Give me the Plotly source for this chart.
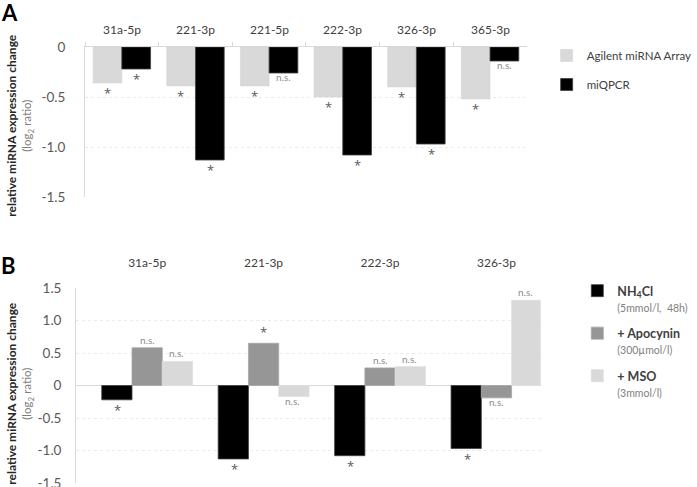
"""
    miRNA expression change - two panel bar chart
"""
import plotly.graph_objects as go

# Panel A data
mirna_a = ['31a-5p', '221-3p', '221-5p', '222-3p', '326-3p', '365-3p']
agilent = [-0.36, -0.39, -0.39, -0.50, -0.40, -0.52]
miqpcr = [-0.22, -1.13, -0.26, -1.08, -0.97, -0.14]
sig_agilent = ['*', '*', '*', '*', '*', '*']
sig_miqpcr = ['*', '*', 'n.s.', '*', '*', 'n.s.']

# Panel B data
mirna_b = ['31a-5p', '221-3p', '222-3p', '326-3p']
nh4cl = [-0.22, -1.13, -1.08, -0.97]
apocynin = [0.58, 0.65, 0.27, -0.19]
mso = [0.37, -0.17, 0.29, 1.31]
sig_nh4cl = ['*', '*', '*', '*']
sig_apocynin = ['n.s.', '*', 'n.s.', 'n.s.']
sig_mso = ['n.s.', 'n.s.', 'n.s.', 'n.s.']

ticks_a = [0, -0.5, -1.0, -1.5]
ticktext_a = ['0', '-0.5', '-1.0', '-1.5']
ticks_b = [1.5, 1.0, 0.5, 0, -0.5, -1.0, -1.5]
ticktext_b = ['1.5', '1.0', '0.5', '0', '-0.5', '-1.0', '-1.5']

FONT = 'Lato'
W, H = 697, 487


def px(x):
    return x / W


def py(y):
    return 1 - y / H


def sig_annotations(xref, yref, cats, values, sigs, offset):
    out = []
    for c, v, s in zip(cats, values, sigs):
        up = v >= 0
        star = s == '*'
        if star:
            shift = 0 if up else 1
        else:
            shift = 0 if up else 4
        out.append(dict(
            x=c, y=v, xref=xref, yref=yref, text=s, showarrow=False,
            xshift=offset, yshift=shift,
            yanchor='bottom' if up else 'top',
            font=dict(family='Open Sans' if star else FONT,
                      size=13 if star else 10,
                      color='#595959' if star else '#8c8c8c')))
    return out


fig = go.Figure()

# Panel A bars
fig.add_trace(go.Bar(x=mirna_a, y=agilent, name='Agilent miRNA Array',
                     marker=dict(color='#d9d9d9', line=dict(color='#d0d0d0', width=0.5)),
                     xaxis='x', yaxis='y', legend='legend', legendgroup='a1'))
fig.add_trace(go.Bar(x=mirna_a, y=miqpcr, name='miQPCR',
                     marker=dict(color='#000000', line=dict(color='#404040', width=0.8)),
                     xaxis='x', yaxis='y', legend='legend', legendgroup='a2'))

# Panel B bars
sub = "<br><span style='font-size:10.5px;color:#7f7f7f'>%s</span>"
fig.add_trace(go.Bar(x=mirna_b, y=nh4cl,
                     name="<b>NH<sub>4</sub>Cl</b>" + sub % "(5mmol/l,  48h)",
                     marker=dict(color='#000000', line=dict(color='#404040', width=0.8)),
                     xaxis='x2', yaxis='y2', legend='legend2', legendgroup='b1'))
fig.add_trace(go.Bar(x=mirna_b, y=apocynin,
                     name="<b>+ Apocynin</b>" + sub % "(300µmol/l)",
                     marker=dict(color='#969696', line=dict(color='#a6a6a6', width=0.8)),
                     xaxis='x2', yaxis='y2', legend='legend2', legendgroup='b2'))
fig.add_trace(go.Bar(x=mirna_b, y=mso,
                     name="<b>+ MSO</b>" + sub % "(3mmol/l)",
                     marker=dict(color='#d9d9d9', line=dict(color='#e0e0e0', width=0.8)),
                     xaxis='x2', yaxis='y2', legend='legend2', legendgroup='b3'))

axis_font = dict(family=FONT, size=12, color='#404040')
tick_font = dict(family=FONT, size=13.5, color='#595959')
grid = dict(showgrid=True, gridcolor='#ebebeb', griddash='dot', gridwidth=1)

# significance marks
bw_a = 29.5
bw_b = 29.4
ann = []
ann += sig_annotations('x', 'y', mirna_a, agilent, sig_agilent, -bw_a / 2)
ann += sig_annotations('x', 'y', mirna_a, miqpcr, sig_miqpcr, bw_a / 2)
ann += sig_annotations('x2', 'y2', mirna_b, nh4cl, sig_nh4cl, -bw_b)
ann += sig_annotations('x2', 'y2', mirna_b, apocynin, sig_apocynin, 0)
ann += sig_annotations('x2', 'y2', mirna_b, mso, sig_mso, bw_b)

# panel A category labels above the top axis line
ann += [dict(x=c, y=py(29), xref='x', yref='paper', text=c, showarrow=False,
             xanchor='center', yanchor='middle', font=axis_font) for c in mirna_a]

# panel letters and axis titles
ytitle = ("<b>relative miRNA expression change</b><br>"
          "<span style='font-size:11.5px;color:#7f7f7f'>(log<sub>2</sub> ratio)</span>")
ann += [
    dict(text='<b>A</b>', x=px(-1), y=py(12), xref='paper', yref='paper',
         showarrow=False, xanchor='left', yanchor='middle',
         font=dict(family=FONT, size=22, color='#000000')),
    dict(text='<b>B</b>', x=px(-1), y=py(265), xref='paper', yref='paper',
         showarrow=False, xanchor='left', yanchor='middle',
         font=dict(family=FONT, size=22, color='#000000')),
    dict(text=ytitle, x=px(20), y=py(125), xref='paper', yref='paper',
         showarrow=False, textangle=-90, xanchor='center', yanchor='middle',
         font=dict(family=FONT, size=12, color='#262626')),
    dict(text=ytitle, x=px(20), y=py(393), xref='paper', yref='paper',
         showarrow=False, textangle=-90, xanchor='center', yanchor='middle',
         font=dict(family=FONT, size=12, color='#262626')),
]

fig.update_layout(
    width=W, height=H,
    margin=dict(l=0, r=0, t=0, b=0),
    paper_bgcolor='white', plot_bgcolor='white',
    barmode='group', bargap=0.22,
    font=dict(family=FONT, size=12, color='#404040'),
    annotations=ann,
    xaxis=dict(domain=[px(86), px(533)], anchor='y', side='top', type='category',
               range=[-0.5, 5.5], showline=True, linecolor='#d9d9d9', linewidth=1,
               ticks='outside', tickson='boundaries', ticklen=4, tickcolor='#d9d9d9',
               showticklabels=False, showgrid=False, automargin=False),
    yaxis=dict(domain=[py(197), py(47)], anchor='x', range=[-1.5, 0],
               tickvals=ticks_a, ticktext=ticktext_a, tickfont=tick_font,
               showline=True, linecolor='#d9d9d9', linewidth=1, **grid,
               zeroline=False, ticks='', ticklabelstandoff=16, automargin=False),
    xaxis2=dict(domain=[px(77), px(547)], anchor='y2', side='top', type='category',
                range=[-0.61, 3.38], showline=False, ticks='',
                tickfont=axis_font, ticklabelstandoff=18, showgrid=False,
                automargin=False),
    yaxis2=dict(domain=[py(483), py(288)], anchor='x2', range=[-1.5, 1.5],
                tickvals=ticks_b, ticktext=ticktext_b, tickfont=tick_font,
                showline=True, linecolor='#d9d9d9', linewidth=1, **grid,
                zeroline=True, zerolinecolor='#d9d9d9', zerolinewidth=1,
                ticks='', ticklabelstandoff=11, automargin=False,
                ticklabeloverflow='allow'),
    legend=dict(x=px(553), y=py(41), xanchor='left', yanchor='top',
                font=dict(family=FONT, size=11.5, color='#404040'),
                tracegroupgap=10, itemwidth=30, bgcolor='rgba(0,0,0,0)'),
    legend2=dict(x=px(584), y=py(276), xanchor='left', yanchor='top',
                 font=dict(family=FONT, size=12.5, color='#404040'),
                 tracegroupgap=7, itemwidth=30, valign='top', bgcolor='rgba(0,0,0,0)'),
)

# the page body has a default 8px margin; drop it so the figure fills the window
fig.write_html("out.html", config={'displayModeBar': False},
               post_script="document.body.style.margin='0px';")
